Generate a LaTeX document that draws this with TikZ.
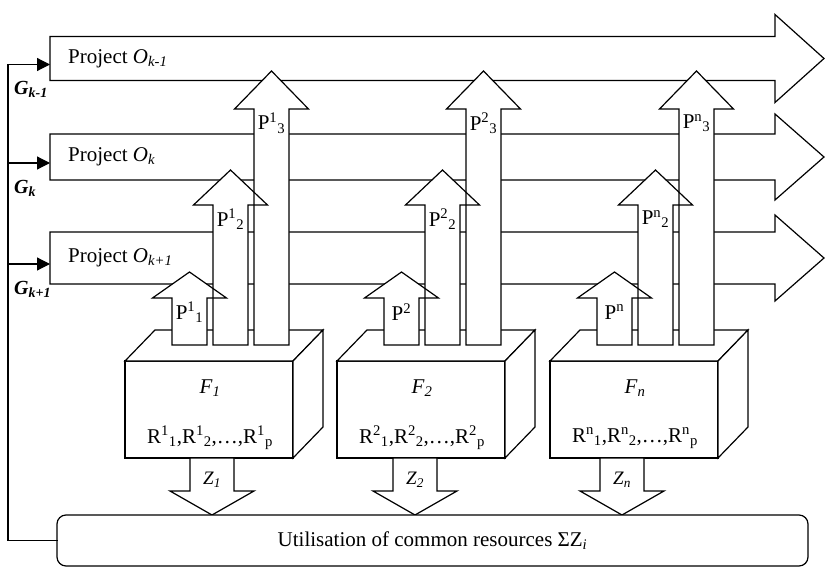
\documentclass[tikz,border=0pt]{standalone}
\usepackage{fontspec}
\setmainfont{Liberation Serif}
\usetikzlibrary{arrows.meta}
\tikzset{
  ln/.style={line width=1.2pt, line join=miter},
  blk/.style={ln, fill=white},
  txt/.style={font=\fontsize{21}{25}\selectfont, inner sep=0pt},
  ztxt/.style={font=\fontsize{19}{22}\selectfont, inner sep=0pt},
  gtxt/.style={font=\fontsize{20}{24}\selectfont\bfseries\itshape, inner sep=0pt, anchor=west},
  fbox/.style={blk, draw, minimum width=168pt, minimum height=97pt, outer sep=0pt},
  ubox/.style={blk, draw, rounded corners=9pt, minimum width=751pt, minimum height=51pt, outer sep=0pt, txt},
  pfill/.style={fill=white},
  pline/.style={ln, draw},
  fb/.style={ln, line cap=rect, -{Triangle[length=13pt, width=13pt]}},
}
\newcommand{\Pn}[2]{P\textsuperscript{#1}\textsubscript{#2}}

\begin{document}
\begin{tikzpicture}[x=1pt, y=-1pt]
\useasboundingbox (0,0) rectangle (825,575);

% projects
\foreach \nm/\yc/\hs/\hh/\sub in {Oa/58.5/22/44/{k-1}, Ob/157/23/43/k, Oc/258/26/43/{k+1}} {
  \node[gtxt] (G\nm) at (14,\yc+31) {G\textsubscript{\sub}};
  \filldraw[blk] (50,\yc-\hs) -- (775,\yc-\hs) -- (775,\yc-\hh) -- (824,\yc)
    -- (775,\yc+\hh) -- (775,\yc+\hs) -- (50,\yc+\hs) -- cycle;
  \node[txt, anchor=west] (\nm-t) at (68,\yc) {Project \textit{O}\textsubscript{\textit{\sub}}};
  \coordinate (\nm) at (50,\yc+6);
}

% production units
\foreach \d/\s/\pa/\zx in {0/1/{\Pn{1}{1}}/212, 212/2/{P\textsuperscript{2}}/415, 425/n/{P\textsuperscript{n}}/622} {
  \pgfmathsetmacro{\bx}{125+\d}
  \node[fbox] (F\s) at (\bx+84,409.5) {};
  \draw[blk] (F\s.north west) -- ++(30,-31) -- ++(168,0) -- (F\s.north east) -- cycle;
  \draw[blk] (F\s.north east) -- ++(30,-31) -- ++(0,97) -- (F\s.south east) -- cycle;
  \node[txt] (F\s-n) at (\bx+85,388) {\textit{F}\textsubscript{\textit{\s}}};
  \node[txt] (F\s-r) at (\bx+85,438) {R\textsuperscript{\s}\textsubscript{1},R\textsuperscript{\s}\textsubscript{2},\ldots,R\textsuperscript{\s}\textsubscript{p}};
  \foreach \ps in {pfill, pline}
    \foreach \a/\hb/\tp in {47/298/272, 88/205/170, 129/109/71}
      \path[\ps] (\bx+\a,345) -- (\bx+\a,\hb) -- (\bx+\a-19.5,\hb) -- (\bx+\a+17.5,\tp)
        -- (\bx+\a+54.5,\hb) -- (\bx+\a+35,\hb) -- (\bx+\a+35,345) -- cycle;
  \foreach \a/\hb/\pl [count=\i] in {47/298/{\pa}, 88/205/{\Pn{\s}{2}}, 129/109/{\Pn{\s}{3}}}
    \node[txt] (P\s-\i) at (\bx+\a+17.5,\hb+14) {\pl};
  \filldraw[blk] (\zx-22,458) -- (\zx-22,491) -- (\zx-42,491) -- (\zx,515)
    -- (\zx+42,491) -- (\zx+22,491) -- (\zx+22,458) -- cycle;
  \node[ztxt] (Z\s) at (\zx,480) {\textit{Z}\textsubscript{\textit{\s}}};
}

\node[ubox] (util) at (432.5,540.5) {Utilisation of common resources ΣZ\textsubscript{\textit{i}}};

% feedback
\coordinate (bus) at (8,0);
\draw[ln, line cap=rect] (util.west) -| (Oa -| bus);
\draw[fb] (Oa -| bus) -- (Oa);
\draw[fb] (Ob -| bus) -- (Ob);
\draw[fb] (Oc -| bus) -- (Oc);
\end{tikzpicture}
\end{document}
